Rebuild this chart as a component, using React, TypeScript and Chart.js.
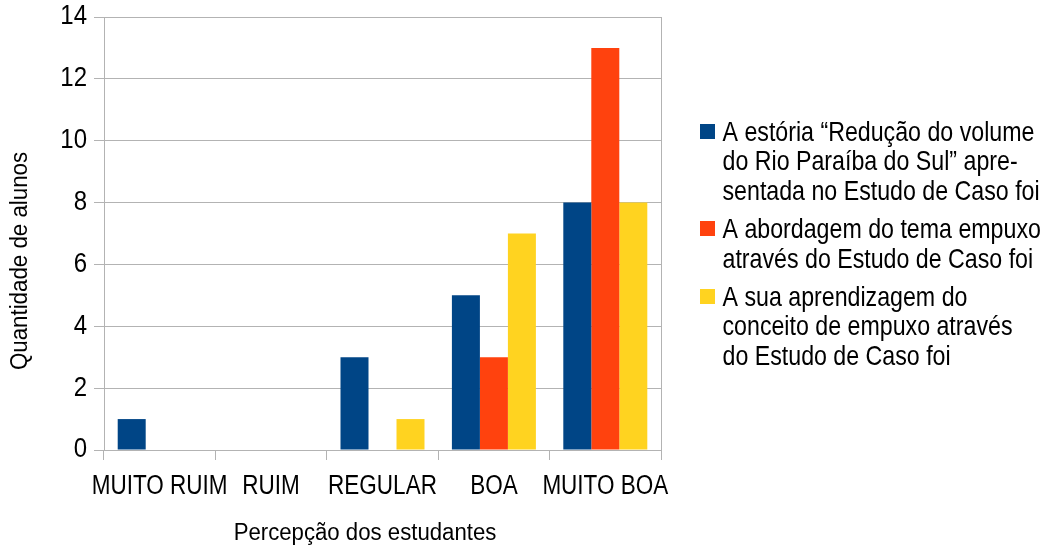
import { useEffect, useRef } from "react";
import { Chart, registerables } from "chart.js";

Chart.register(...registerables);

// Categories on the x axis
const categories = ["MUITO RUIM", "RUIM", "REGULAR", "BOA", "MUITO BOA"];

// Number of students per category, one array per question
const historiaValues = [1, 0, 3, 5, 8];
const abordagemValues = [0, 0, 0, 3, 13];
const aprendizagemValues = [0, 0, 1, 7, 8];

// Legend text, already broken into lines
const historiaLegend = [
  "A estória “Redução do volume",
  "do Rio Paraíba do Sul” apre-",
  "sentada no Estudo de Caso foi",
];
const abordagemLegend = ["A abordagem do tema empuxo", "através do Estudo de Caso foi"];
const aprendizagemLegend = [
  "A sua aprendizagem do",
  "conceito de empuxo através",
  "do Estudo de Caso foi",
];

const yMin = 0;
const yMax = 14;
const yStep = 2;

const xTitle = "Percepção dos estudantes";
const yTitle = "Quantidade de alunos";

const FONT = "'Liberation Sans', Arial, sans-serif";
const GRID = "#b3b3b3";
const COLORS = ["#004586", "#ff420e", "#ffd320"];
const legendLines = [historiaLegend, abordagemLegend, aprendizagemLegend];

// Text is drawn slightly taller than wide, as in the office-suite export
function drawText(
  ctx: CanvasRenderingContext2D,
  text: string,
  x: number,
  y: number,
  size: number,
  align: CanvasTextAlign,
  stretch: number,
  rotation = 0
) {
  ctx.save();
  ctx.translate(x, y);
  if (rotation) ctx.rotate(rotation);
  ctx.scale(1, stretch);
  ctx.font = `${size}px ${FONT}`;
  ctx.textAlign = align;
  ctx.textBaseline = "middle";
  ctx.fillStyle = "#000";
  ctx.fillText(text, 0, 0);
  ctx.restore();
}

// Draws the right edge of the plot frame, tick labels, axis titles and the legend
const labelsAndLegend = {
  id: "labelsAndLegend",
  afterDraw(chart: any) {
    const { ctx, chartArea, scales } = chart;
    ctx.save();
    ctx.strokeStyle = GRID;
    ctx.lineWidth = 1;
    const rx = Math.round(chartArea.right) + 0.5;
    ctx.beginPath();
    ctx.moveTo(rx, Math.round(chartArea.top));
    ctx.lineTo(rx, Math.round(chartArea.bottom) + 10);
    ctx.stroke();
    ctx.restore();

    // category labels
    const xs = scales.x;
    xs.ticks.forEach((_t: any, i: number) => {
      const label = chart.data.labels[i];
      drawText(ctx, label, xs.getPixelForValue(i), chartArea.bottom + 36.5, 22.5, "center", 1.2);
    });

    // value labels
    const ys = scales.y;
    ys.ticks.forEach((t: any) => {
      drawText(ctx, String(t.value), 87, ys.getPixelForValue(t.value), 24, "right", 1.12);
    });

    // axis titles
    drawText(ctx, xTitle, 365, 533.5, 22.2, "center", 1.05);
    drawText(ctx, yTitle, 21, 261, 22.3, "center", 1.05, -Math.PI / 2);

    // legend
    const x = 700;
    let y = 133;
    const lineH = 29.8;
    chart.data.datasets.forEach((ds: any, i: number) => {
      const lines = legendLines[i];
      ctx.fillStyle = ds.backgroundColor;
      ctx.fillRect(x, Math.round(y - 9), 15, 15);
      lines.forEach((l: string, j: number) => drawText(ctx, l, x + 22.5, y + j * lineH, 23.2, "left", 1.2));
      y += lines.length * lineH + 8;
    });
  },
};

export default function App() {
  const ref = useRef<HTMLCanvasElement | null>(null);

  useEffect(() => {
    if (!ref.current) return;
    const chart = new Chart(ref.current, {
      type: "bar",
      data: {
        labels: categories,
        datasets: [
          { label: historiaLegend.join(" "), data: historiaValues, backgroundColor: COLORS[0] },
          { label: abordagemLegend.join(" "), data: abordagemValues, backgroundColor: COLORS[1] },
          { label: aprendizagemLegend.join(" "), data: aprendizagemValues, backgroundColor: COLORS[2] },
        ],
      },
      options: {
        animation: false,
        responsive: false,
        maintainAspectRatio: false,
        devicePixelRatio: 1,
        layout: { padding: { left: 0, top: 17, right: 389, bottom: 0 } },
        datasets: { bar: { barPercentage: 1, categoryPercentage: 0.754, borderWidth: 0 } },
        plugins: {
          legend: { display: false },
          tooltip: { enabled: false },
        },
        scales: {
          x: {
            offset: true,
            grid: {
              offset: true,
              drawOnChartArea: false,
              drawTicks: true,
              tickLength: 10,
              color: GRID,
            },
            border: { display: true, color: GRID },
            ticks: { display: false, autoSkip: false, maxRotation: 0 },
            afterFit(scale: any) {
              scale.height = 97;
            },
          },
          y: {
            min: yMin,
            max: yMax,
            ticks: { display: false, stepSize: yStep },
            grid: { color: GRID, tickLength: 10, drawTicks: true },
            border: { display: true, color: GRID },
            afterFit(scale: any) {
              scale.width = 104;
            },
          },
        },
      },
      plugins: [labelsAndLegend],
    });
    return () => chart.destroy();
  }, []);

  return (
    <div style={{ position: "absolute", left: 0, top: 0, width: 1050, height: 547, background: "#fff" }}>
      <canvas ref={ref} width={1050} height={547} />
    </div>
  );
}
